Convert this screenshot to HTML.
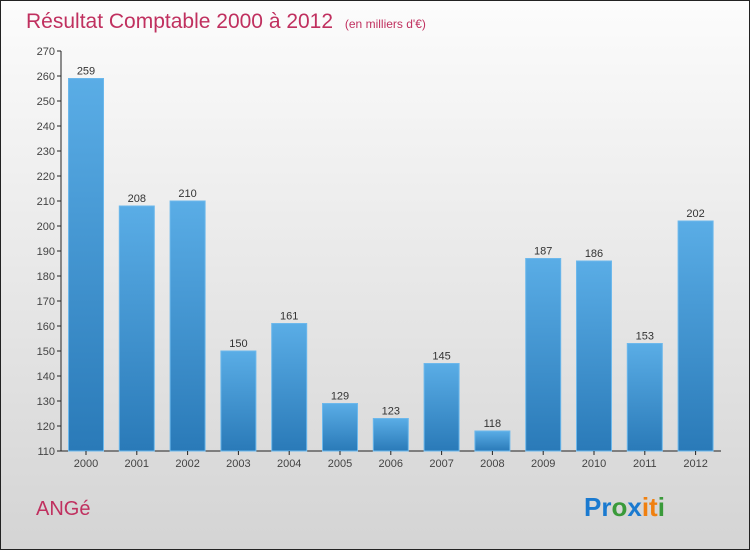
<!DOCTYPE html>
<html><head><meta charset="utf-8"><style>
body{margin:0}
#root{width:748px;height:548px;border:1px solid #222;background:linear-gradient(#fcfcfc,#d4d4d4);position:relative;overflow:hidden;font-family:"Liberation Sans",sans-serif}
</style></head><body>
<div id="root">
<svg width="748" height="548" id="svg">
<defs><linearGradient id="bg" x1="0" y1="0" x2="0" y2="1"><stop offset="0" stop-color="#5aade6"/><stop offset="1" stop-color="#2a7ab8"/></linearGradient></defs>
<text x="25" y="27" font-size="21" fill="#c0305f">Résultat Comptable 2000 à 2012 <tspan font-size="12" dx="6">(en milliers d'€)</tspan></text>
<text x="35" y="514" font-size="20" fill="#c0305f">ANGé</text>
<text x="583" y="515" font-size="26" font-weight="bold"><tspan fill="#1a7ad0">Pr</tspan><tspan fill="#3a9a3a">o</tspan><tspan fill="#1a7ad0">x</tspan><tspan fill="#f08010">it</tspan><tspan fill="#3a9a3a">i</tspan></text>
<g id="g"></g>
</svg>
</div>
<script>
const years=["2000","2001","2002","2003","2004","2005","2006","2007","2008","2009","2010","2011","2012"];
const values=[259,208,210,150,161,129,123,145,118,187,186,153,202];
const yTicks=[110,120,130,140,150,160,170,180,190,200,210,220,230,240,250,260,270];
const NS="http://www.w3.org/2000/svg";
const g=document.getElementById('g');
const y=v=>450-(v-110)*2.5;
const x=i=>85+i*50.8;
function mk(t,a){const e=document.createElementNS(NS,t);for(const k in a)e.setAttribute(k,a[k]);g.appendChild(e);return e;}
let ax=mk('line',{x1:60,y1:50,x2:60,y2:450,stroke:'#222'});


let xa=mk('line',{x1:60,y1:450,x2:720,y2:450,stroke:'#222'});


yTicks.forEach(v=>{
 const tk=mk('line',{x1:56,y1:y(v),x2:60,y2:y(v),stroke:'#222'});
 
 
 const t=mk('text',{x:54,y:y(v)+4,'font-size':11,fill:'#444','text-anchor':'end'});
 t.textContent=v;
 
 
});
values.forEach((v,i)=>{
 const b=mk('rect',{x:x(i)-17.5,y:y(v),width:35,height:450-y(v),fill:'url(#bg)',stroke:'#6cb8ec'});
 
 
 const l=mk('text',{x:x(i),y:y(v)-4,'font-size':11,fill:'#333','text-anchor':'middle'});
 l.textContent=v;
 
 
 const tk=mk('line',{x1:x(i),y1:450,x2:x(i),y2:454,stroke:'#222'});
 
 
 const xl=mk('text',{x:x(i),y:466,'font-size':11,fill:'#444','text-anchor':'middle'});
 xl.textContent=years[i];
 
 
});
</script>
</body></html>
